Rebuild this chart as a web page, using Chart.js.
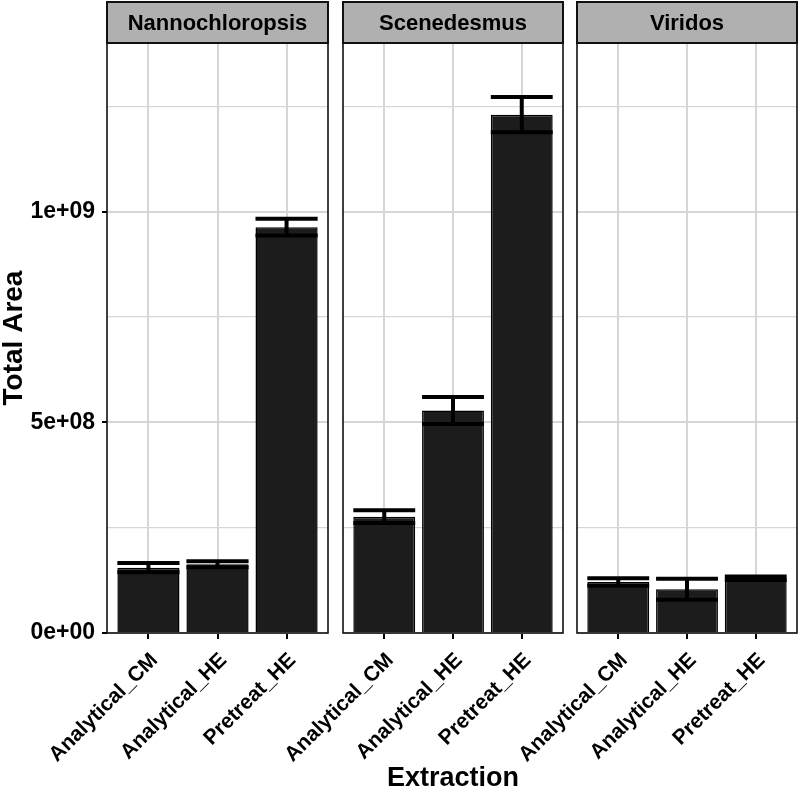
<!DOCTYPE html>
<html>
<head>
<meta charset="utf-8">
<script src="https://cdn.jsdelivr.net/npm/chart.js@4.4.1/dist/chart.umd.min.js"></script>
<style>
  html, body { margin: 0; padding: 0; background: #fff; }
  #wrap { position: relative; width: 800px; height: 795px; }
  #wrap canvas { position: absolute; left: 0; top: 0; }
</style>
</head>
<body>
<div id="wrap">
  <canvas id="p0" width="800" height="795"></canvas>
  <canvas id="p1" width="800" height="795"></canvas>
  <canvas id="p2" width="800" height="795"></canvas>
</div>
<script>
const species = ['Nannochloropsis', 'Scenedesmus', 'Viridos'];
const categories = ['Analytical_CM', 'Analytical_HE', 'Pretreat_HE'];

// mean total area and error per extraction
const nannoMeans = [1.55e8, 1.63e8, 9.63e8];
const nannoErr = [1.1e7, 7e6, 2e7];
const scenMeans = [2.76e8, 5.28e8, 1.23e9];
const scenErr = [1.5e7, 3.2e7, 4.2e7];
const viriMeans = [1.21e8, 1.04e8, 1.30e8];
const viriErr = [9e6, 2.5e7, 4e6];

const yTicks = [0, 2.5e8, 5e8, 7.5e8, 1e9, 1.25e9];
const yTickLabels = ['0e+00', '', '5e+08', '', '1e+09', ''];

const FONT = '"Liberation Sans", Arial, sans-serif';

// strip header, panel border, error bars
const facetFrame = {
  id: 'facetFrame',
  afterDatasetsDraw(chart) {
    const ctx = chart.ctx;
    const y = chart.scales.y;
    const ds = chart.data.datasets[0];
    const meta = chart.getDatasetMeta(0);
    ctx.save();
    ctx.strokeStyle = '#000';
    ctx.lineWidth = 4;
    meta.data.forEach((bar, k) => {
      const m = ds.data[k].y, e = ds.errs[k];
      const hi = y.getPixelForValue(m + e), lo = y.getPixelForValue(m - e);
      const half = bar.width / 2;
      ctx.beginPath();
      ctx.moveTo(bar.x, hi); ctx.lineTo(bar.x, lo);
      ctx.moveTo(bar.x - half, hi); ctx.lineTo(bar.x + half, hi);
      ctx.moveTo(bar.x - half, lo); ctx.lineTo(bar.x + half, lo);
      ctx.stroke();
    });
    ctx.restore();
  },
  afterDraw(chart, args, opts) {
    const ctx = chart.ctx;
    const a = chart.chartArea;
    ctx.save();
    ctx.strokeStyle = '#111';
    ctx.lineWidth = 1.6;
    ctx.strokeRect(a.left, a.top, a.right - a.left, a.bottom - a.top);
    // strip
    ctx.fillStyle = '#b0b0b0';
    ctx.fillRect(a.left, 2, a.right - a.left, a.top - 2);
    ctx.lineWidth = 2;
    ctx.strokeRect(a.left, 2, a.right - a.left, a.top - 2);
    ctx.fillStyle = '#000';
    ctx.font = 'bold 22px ' + FONT;
    ctx.textAlign = 'center';
    ctx.textBaseline = 'middle';
    ctx.fillText(opts.text, (a.left + a.right) / 2, (a.top + 2) / 2 + 1);
    ctx.restore();
  }
};

function makePanel(id, idx, means, errs, padL, padR) {
  const first = idx === 0;
  return new Chart(document.getElementById(id), {
    type: 'bar',
    data: {
      datasets: [{
        data: means.map((v, k) => ({ x: k, y: v })),
        errs: errs,
        backgroundColor: '#1c1c1c',
        borderColor: '#000',
        borderWidth: 1.5,
        categoryPercentage: 1,
        barPercentage: 0.9
      }]
    },
    options: {
      responsive: false,
      animation: false,
      layout: { padding: { top: 43, left: padL, right: padR, bottom: 0 } },
      plugins: {
        legend: { display: false },
        tooltip: { enabled: false },
        facetFrame: { text: species[idx] }
      },
      scales: {
        x: {
          type: 'linear',
          min: -0.6,
          max: 2.6,
          offset: false,
          afterBuildTicks: s => { s.ticks = categories.map((c, k) => ({ value: k })); },
          afterFit: s => { s.height = 162; s.paddingLeft = 0; s.paddingRight = 0; },
          ticks: {
            autoSkip: false,
            maxRotation: 45,
            minRotation: 45,
            padding: 9,
            labelOffset: 6,
            color: '#000',
            font: { family: FONT, size: 21, weight: 'bold' },
            callback: v => categories[v]
          },
          grid: { offset: false, color: '#d6d6d6', lineWidth: 2, tickColor: '#000', tickLength: 6 },
          border: { display: false },
          title: {
            display: idx === 1,
            text: 'Extraction',
            color: '#000',
            padding: { top: 0, bottom: 2 },
            font: { family: FONT, size: 27, weight: 'bold', lineHeight: 1.1 }
          }
        },
        y: {
          min: 0,
          max: 1.4e9,
          afterBuildTicks: s => { s.ticks = yTicks.map(v => ({ value: v })); },
          afterFit: s => { s.width = first ? 107 : 0; },
          ticks: {
            display: first,
            padding: 7,
            color: '#000',
            font: { family: FONT, size: 23, weight: 'bold' },
            callback: (v, i) => yTickLabels[i]
          },
          grid: {
            color: '#d6d6d6',
            lineWidth: c => (c.tick && c.tick.value % 5e8 === 0 ? 2 : 1.2),
            drawTicks: first,
            tickLength: 5,
            tickColor: c => (c.tick && c.tick.value % 5e8 === 0 ? '#000' : 'rgba(0,0,0,0)')
          },
          border: { display: false },
          title: {
            display: first,
            text: 'Total Area',
            color: '#000',
            padding: { top: 0, bottom: 0 },
            font: { family: FONT, size: 28, weight: 'bold', lineHeight: 1.0 }
          }
        }
      }
    },
    plugins: [facetFrame]
  });
}

// chart areas: 107-328, 343-563, 577-797
makePanel('p0', 0, nannoMeans, nannoErr, 0, 472);
makePanel('p1', 1, scenMeans, scenErr, 343, 237);
makePanel('p2', 2, viriMeans, viriErr, 577, 3);
</script>
</body>
</html>
